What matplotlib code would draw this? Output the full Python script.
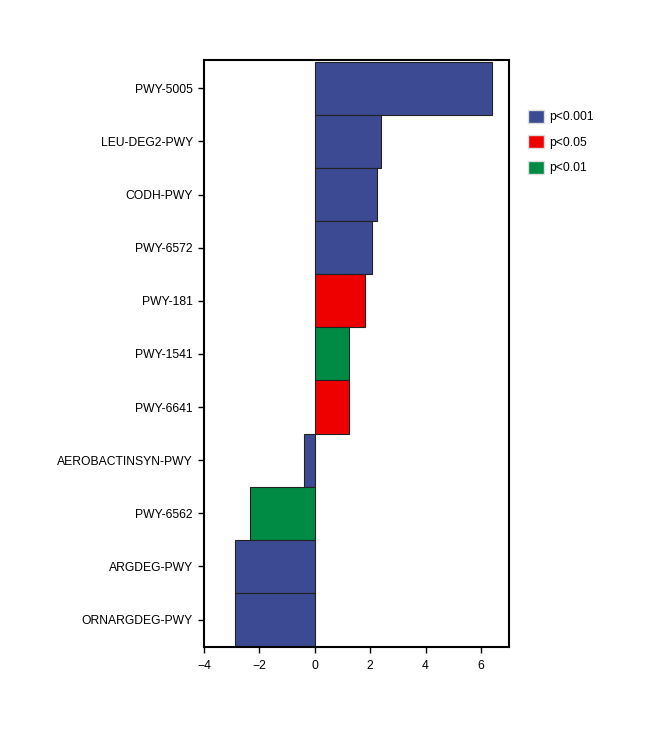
import matplotlib
matplotlib.use("Agg")
import matplotlib.pyplot as plt
from matplotlib.patches import Patch

plt.rcParams['font.family'] = ['Liberation Sans', 'DejaVu Sans']

# pathways from top to bottom
pathways = ["PWY-5005", "LEU-DEG2-PWY", "CODH-PWY", "PWY-6572", "PWY-181",
            "PWY-1541", "PWY-6641", "AEROBACTINSYN-PWY", "PWY-6562",
            "ARGDEG-PWY", "ORNARGDEG-PWY"]
values = [6.40, 2.40, 2.24, 2.05, 1.80, 1.22, 1.22, -0.38, -2.35, -2.88, -2.88]
signif = ["p<0.001", "p<0.001", "p<0.001", "p<0.001", "p<0.05",
          "p<0.01", "p<0.05", "p<0.001", "p<0.01", "p<0.001", "p<0.001"]

colors = {"p<0.001": "#3b4a92", "p<0.05": "#ee0000", "p<0.01": "#008b45"}
legend_order = ["p<0.001", "p<0.05", "p<0.01"]

fig = plt.figure(figsize=(6.58, 7.43), dpi=100)
ax = fig.add_axes([0.310, 0.129, 0.463, 0.790])

n = len(pathways)
ypos = [n - 1 - i for i in range(n)]
ax.barh(ypos, values, height=1.0, color=[colors[s] for s in signif],
        edgecolor="#222222", linewidth=0.8)

ax.set_yticks(ypos)
ax.set_yticklabels(pathways, fontsize=8.7)
ax.set_xlim(-4, 7)
ax.set_ylim(-0.52, n - 0.47)
ax.set_xticks([-4, -2, 0, 2, 4, 6])
ax.tick_params(axis='x', labelsize=8.7, length=4, width=1, pad=5)
ax.tick_params(axis='y', length=4, width=1, pad=4)
for sp in ax.spines.values():
    sp.set_linewidth(1.5)

handles = [Patch(facecolor=colors[k], edgecolor="#dddddd", label=k) for k in legend_order]
fig.legend(handles=handles, loc="upper left", bbox_to_anchor=(0.786, 0.867),
           frameon=False, fontsize=8.7, handlelength=1.35, handleheight=1.3,
           handletextpad=0.4, labelspacing=0.98)

fig.savefig("out.png", dpi=100)
